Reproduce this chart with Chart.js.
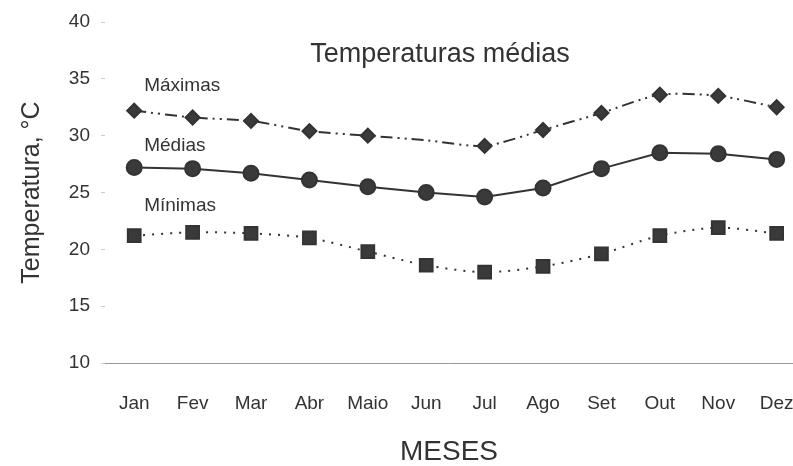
<!DOCTYPE html>
<html>
<head>
<meta charset="utf-8">
<script src="https://cdn.jsdelivr.net/npm/chart.js@4/dist/chart.umd.min.js"></script>
<style>
  body { margin: 0; background: #fff; }
</style>
</head>
<body>
<canvas id="chart" width="793" height="466"></canvas>
<script>
const months = ['Jan', 'Fev', 'Mar', 'Abr', 'Maio', 'Jun', 'Jul', 'Ago', 'Set', 'Out', 'Nov', 'Dez'];
const maximas = [32.2, 31.6, 31.3, 30.4, 30.0, 29.6, 29.1, 30.5, 32.0, 33.6, 33.5, 32.5];
const medias = [27.2, 27.1, 26.7, 26.1, 25.5, 25.0, 24.6, 25.4, 27.1, 28.5, 28.4, 27.9];
const minimas = [21.2, 21.5, 21.4, 21.0, 19.8, 18.6, 18.0, 18.5, 19.6, 21.2, 21.9, 21.4];
const yTicks = [10, 15, 20, 25, 30, 35, 40];

// text labels next to each curve (value on the y scale where they sit)
const seriesLabels = [
  { text: 'Máximas', y: 34.4 },
  { text: 'Médias', y: 29.1 },
  { text: 'Mínimas', y: 23.8 }
];

const ink = '#333';
const font = 'Arial, "Liberation Sans", Helvetica, sans-serif';

const pts = arr => arr.map((v, i) => ({ x: i, y: v }));

const labelsPlugin = {
  id: 'labelsPlugin',
  afterDraw(chart) {
    const { ctx, chartArea, scales: { x, y } } = chart;
    ctx.save();
    ctx.fillStyle = ink;
    ctx.textBaseline = 'middle';
    ctx.textAlign = 'center';
    ctx.font = '27px ' + font;
    ctx.fillText('Temperaturas médias', chartArea.left + (chartArea.right - chartArea.left) * 0.487, chartArea.top + 33);
    ctx.textAlign = 'left';
    ctx.font = '19px ' + font;
    seriesLabels.forEach(l => {
      ctx.fillText(l.text, x.getPixelForValue(0) + 10, y.getPixelForValue(l.y));
    });
    ctx.restore();
  }
};

const ctx = document.getElementById('chart').getContext('2d');
new Chart(ctx, {
  type: 'line',
  data: {
    datasets: [{
      label: 'Máximas',
      data: pts(maximas),
      borderColor: ink,
      backgroundColor: '#3a3a3a',
      borderWidth: 2,
      borderDash: [12, 5, 2, 5, 2, 5],
      pointStyle: 'rectRot',
      pointRadius: maximas.map((v, i) => i === 5 ? 0 : 7),
      tension: 0.25
    }, {
      label: 'Médias',
      data: pts(medias),
      borderColor: ink,
      backgroundColor: '#3a3a3a',
      borderWidth: 2,
      pointStyle: 'circle',
      pointRadius: 7.5,
      tension: 0
    }, {
      label: 'Mínimas',
      data: pts(minimas),
      borderColor: ink,
      backgroundColor: '#3a3a3a',
      borderWidth: 2,
      borderDash: [2, 7],
      pointStyle: 'rect',
      pointRadius: 9,
      tension: 0.3
    }]
  },
  options: {
    responsive: false,
    animation: false,
    layout: { autoPadding: false, padding: { top: 22, right: 0, left: 0, bottom: 0 } },
    plugins: {
      legend: { display: false },
      tooltip: { enabled: false }
    },
    scales: {
      x: {
        type: 'linear',
        min: -0.5,
        max: 11.28,
        afterBuildTicks: s => { s.ticks = months.map((m, i) => ({ value: i })); },
        afterFit: s => { s.height = 103; s.paddingLeft = 0; s.paddingRight = 0; },
        grid: { display: false },
        border: { display: true, color: '#999', width: 1 },
        ticks: {
          callback: v => months[v],
          color: ink,
          padding: 21,
          maxRotation: 0,
          autoSkip: false,
          font: { size: 19, family: font }
        },
        title: {
          display: true,
          text: 'MESES',
          color: ink,
          padding: { top: 0, bottom: 0 },
          font: { size: 28, family: font, lineHeight: 1 }
        }
      },
      y: {
        min: 10,
        max: 40,
        afterBuildTicks: s => { s.ticks = yTicks.map(v => ({ value: v })); },
        afterFit: s => { s.width = 105; s.paddingTop = 0; s.paddingBottom = 0; },
        grid: { drawOnChartArea: false, tickLength: 4, color: '#ccc' },
        border: { display: false },
        ticks: {
          color: ink,
          padding: 11,
          font: { size: 19, family: font }
        },
        title: {
          display: true,
          text: 'Temperatura, °C',
          color: ink,
          padding: { top: 20, bottom: 0 },
          font: { size: 25, family: font, lineHeight: 1 }
        }
      }
    }
  },
  plugins: [labelsPlugin]
});
</script>
</body>
</html>
